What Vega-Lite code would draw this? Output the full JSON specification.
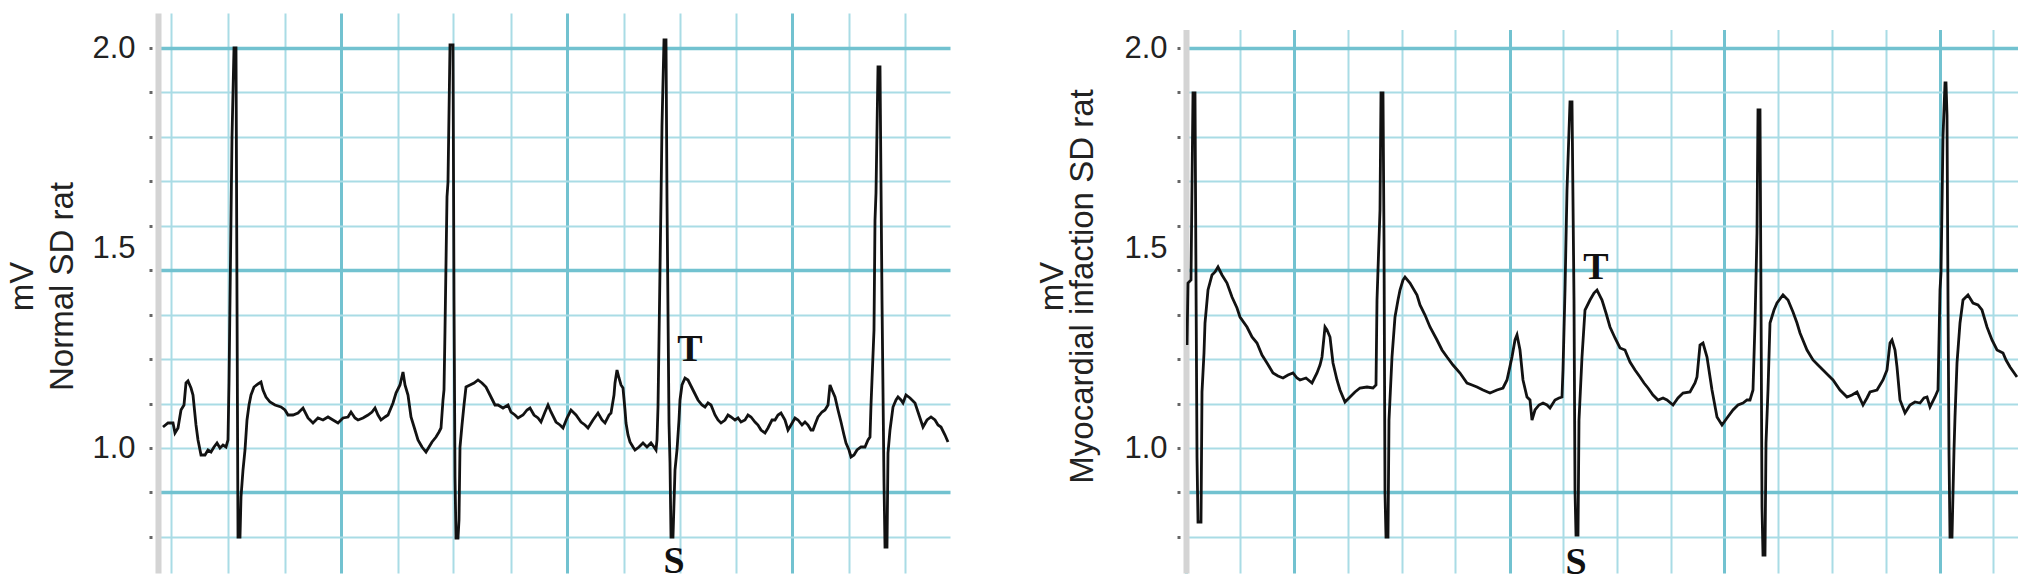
{
  "$schema": "https://vega.github.io/schema/vega-lite/v6.json",
  "padding": {"left": 6, "top": 13, "right": 0, "bottom": 0},
  "background": "white",
  "spacing": 86,
  "config": {"view": {"stroke": null}, "font": "Liberation Sans"},
  "datasets": {
    "normal": [
      {"t":5,"mV":1.0525},{"t":10,"mV":1.0625},{"t":15,"mV":1.0625},{"t":17,"mV":1.0375},{"t":20,"mV":1.05},{"t":23,"mV":1.095},{"t":26,"mV":1.1075},{"t":28,"mV":1.1625},{"t":30,"mV":1.1675},{"t":33,"mV":1.15},{"t":35,"mV":1.1325},{"t":38,"mV":1.0575},{"t":40,"mV":1.02},{"t":43,"mV":0.9825},{"t":47,"mV":0.9825},{"t":50,"mV":0.995},{"t":53,"mV":0.99},{"t":56,"mV":1.0025},{"t":59,"mV":1.0125},{"t":62,"mV":1.0},{"t":65,"mV":1.0075},{"t":68,"mV":1.0025},
      {"t":70,"mV":1.02},{"t":71,"mV":1.1625},{"t":72,"mV":1.37},{"t":74,"mV":1.7775},{"t":76,"mV":2.0},{"t":78,"mV":2.0},{"t":79,"mV":1.37},{"t":80,"mV":0.7775},{"t":82,"mV":0.7775},{"t":83,"mV":0.8775},{"t":85,"mV":0.945},{"t":87,"mV":0.995},{"t":89,"mV":1.07},{"t":91,"mV":1.1075},{"t":93,"mV":1.1325},{"t":96,"mV":1.1525},{"t":100,"mV":1.16},{"t":103,"mV":1.165},{"t":105,"mV":1.145},{"t":108,"mV":1.1275},{"t":112,"mV":1.115},{"t":117,"mV":1.1075},{"t":123,"mV":1.1025},{"t":127,"mV":1.095},{"t":130,"mV":1.0825},{"t":135,"mV":1.0825},{"t":140,"mV":1.0875},{"t":145,"mV":1.1},{"t":150,"mV":1.075},{"t":155,"mV":1.0625},{"t":160,"mV":1.075},{"t":165,"mV":1.07},{"t":170,"mV":1.0775},{"t":175,"mV":1.07},{"t":180,"mV":1.0625},{"t":185,"mV":1.075},{"t":190,"mV":1.0775},{"t":193,"mV":1.09},{"t":197,"mV":1.075},{"t":200,"mV":1.07},{"t":205,"mV":1.075},{"t":210,"mV":1.0825},{"t":214,"mV":1.09},{"t":217,"mV":1.1},{"t":220,"mV":1.0825},{"t":223,"mV":1.07},{"t":227,"mV":1.0775},{"t":230,"mV":1.0825},{"t":235,"mV":1.1125},{"t":238,"mV":1.1375},{"t":242,"mV":1.1575},{"t":245,"mV":1.19},{"t":247,"mV":1.1575},{"t":250,"mV":1.1325},{"t":253,"mV":1.0775},{"t":257,"mV":1.045},{"t":260,"mV":1.02},{"t":264,"mV":1.0025},{"t":268,"mV":0.99},{"t":271,"mV":1.0025},{"t":274,"mV":1.015},{"t":278,"mV":1.0275},{"t":281,"mV":1.04},{"t":283,"mV":1.05},
      {"t":285,"mV":1.12},{"t":286,"mV":1.145},{"t":287,"mV":1.295},{"t":289,"mV":1.6275},{"t":290,"mV":1.665},{"t":292,"mV":2.0075},{"t":295,"mV":2.0075},{"t":296,"mV":1.37},{"t":297,"mV":0.9275},{"t":298,"mV":0.775},{"t":300,"mV":0.775},{"t":301,"mV":0.82},{"t":302,"mV":1.0025},{"t":304,"mV":1.0575},{"t":306,"mV":1.1075},{"t":308,"mV":1.1525},{"t":312,"mV":1.1575},{"t":316,"mV":1.1625},{"t":320,"mV":1.17},{"t":324,"mV":1.1625},{"t":328,"mV":1.1525},{"t":332,"mV":1.1325},{"t":337,"mV":1.1075},{"t":340,"mV":1.1075},{"t":345,"mV":1.1},{"t":350,"mV":1.1075},{"t":353,"mV":1.09},{"t":357,"mV":1.0825},{"t":360,"mV":1.075},{"t":365,"mV":1.0825},{"t":369,"mV":1.095},{"t":372,"mV":1.1},{"t":376,"mV":1.0825},{"t":380,"mV":1.075},{"t":383,"mV":1.065},{"t":387,"mV":1.09},{"t":390,"mV":1.1075},{"t":393,"mV":1.09},{"t":398,"mV":1.065},{"t":402,"mV":1.0575},{"t":405,"mV":1.05},{"t":409,"mV":1.075},{"t":413,"mV":1.095},{"t":418,"mV":1.0825},{"t":423,"mV":1.065},{"t":427,"mV":1.0575},{"t":430,"mV":1.05},{"t":435,"mV":1.07},{"t":440,"mV":1.0875},{"t":444,"mV":1.07},{"t":447,"mV":1.0625},{"t":451,"mV":1.0825},{"t":453,"mV":1.0875},{"t":456,"mV":1.1325},{"t":457,"mV":1.1625},{"t":459,"mV":1.195},{"t":461,"mV":1.175},{"t":463,"mV":1.1575},{"t":465,"mV":1.15},{"t":467,"mV":1.095},{"t":468,"mV":1.0625},{"t":470,"mV":1.0325},{"t":472,"mV":1.015},{"t":475,"mV":1.0025},{"t":477,"mV":0.995},{"t":481,"mV":1.0025},{"t":485,"mV":1.0125},{"t":489,"mV":1.0025},{"t":493,"mV":1.0125},{"t":496,"mV":1.0025},{"t":498,"mV":0.995},
      {"t":499,"mV":1.02},{"t":500,"mV":1.1025},{"t":501,"mV":1.27},{"t":503,"mV":1.62},{"t":504,"mV":1.8075},{"t":506,"mV":2.02},{"t":508,"mV":2.02},{"t":509,"mV":1.62},{"t":511,"mV":1.0625},{"t":512,"mV":0.9625},{"t":513,"mV":0.7775},{"t":515,"mV":0.7775},{"t":517,"mV":0.945},{"t":519,"mV":0.995},{"t":521,"mV":1.07},{"t":522,"mV":1.12},{"t":524,"mV":1.1575},{"t":527,"mV":1.175},{"t":530,"mV":1.17},{"t":535,"mV":1.145},{"t":540,"mV":1.12},{"t":544,"mV":1.1075},{"t":547,"mV":1.1025},{"t":550,"mV":1.1125},{"t":553,"mV":1.1075},{"t":557,"mV":1.0825},{"t":560,"mV":1.07},{"t":563,"mV":1.0625},{"t":567,"mV":1.07},{"t":570,"mV":1.0825},{"t":573,"mV":1.0775},{"t":577,"mV":1.07},{"t":580,"mV":1.075},{"t":583,"mV":1.065},{"t":587,"mV":1.07},{"t":590,"mV":1.0825},{"t":593,"mV":1.0775},{"t":597,"mV":1.065},{"t":600,"mV":1.0575},{"t":603,"mV":1.045},{"t":607,"mV":1.0375},{"t":610,"mV":1.05},{"t":614,"mV":1.07},{"t":617,"mV":1.07},{"t":620,"mV":1.0825},{"t":623,"mV":1.0875},{"t":627,"mV":1.07},{"t":630,"mV":1.045},{"t":633,"mV":1.0575},{"t":637,"mV":1.075},{"t":640,"mV":1.07},{"t":644,"mV":1.0575},{"t":647,"mV":1.065},{"t":650,"mV":1.0575},{"t":653,"mV":1.045},{"t":655,"mV":1.045},{"t":658,"mV":1.065},{"t":660,"mV":1.0775},{"t":664,"mV":1.09},{"t":667,"mV":1.095},{"t":670,"mV":1.1075},{"t":671,"mV":1.1325},{"t":672,"mV":1.1575},{"t":674,"mV":1.145},{"t":677,"mV":1.1275},{"t":680,"mV":1.095},{"t":683,"mV":1.065},{"t":686,"mV":1.0325},{"t":688,"mV":1.0125},{"t":691,"mV":0.995},{"t":693,"mV":0.9775},{"t":696,"mV":0.9825},{"t":699,"mV":0.995},{"t":703,"mV":1.0025},{"t":707,"mV":1.0025},{"t":710,"mV":1.02},{"t":712,"mV":1.0275},
      {"t":713,"mV":1.1075},{"t":716,"mV":1.295},{"t":717,"mV":1.57},{"t":718,"mV":1.6375},{"t":720,"mV":1.9525},{"t":722,"mV":1.9525},{"t":724,"mV":1.37},{"t":726,"mV":0.9125},{"t":727,"mV":0.7525},{"t":729,"mV":0.7525},{"t":730,"mV":0.9875},{"t":732,"mV":1.045},{"t":735,"mV":1.1025},{"t":738,"mV":1.12},{"t":740,"mV":1.1275},{"t":743,"mV":1.12},{"t":745,"mV":1.1125},{"t":748,"mV":1.1325},{"t":752,"mV":1.125},{"t":757,"mV":1.1125},{"t":760,"mV":1.09},{"t":765,"mV":1.0525},{"t":769,"mV":1.07},{"t":773,"mV":1.0775},{"t":777,"mV":1.07},{"t":780,"mV":1.0575},{"t":783,"mV":1.0525},{"t":787,"mV":1.0325},{"t":790,"mV":1.015}
    ],
    "mi": [
      {"t":1,"mV":1.2575},{"t":2,"mV":1.4125},{"t":5,"mV":1.42},{"t":7,"mV":1.8875},{"t":9,"mV":1.8875},{"t":10,"mV":1.42},{"t":11,"mV":0.9775},{"t":12,"mV":0.815},{"t":15,"mV":0.815},{"t":16,"mV":1.14},{"t":18,"mV":1.2375},{"t":19,"mV":1.3125},{"t":22,"mV":1.395},{"t":26,"mV":1.4325},{"t":29,"mV":1.44},{"t":32,"mV":1.4525},{"t":36,"mV":1.4325},{"t":41,"mV":1.4125},{"t":46,"mV":1.3775},{"t":51,"mV":1.35},{"t":54,"mV":1.3275},{"t":61,"mV":1.3025},{"t":66,"mV":1.2775},{"t":71,"mV":1.2625},{"t":76,"mV":1.2325},{"t":81,"mV":1.2125},{"t":87,"mV":1.1875},{"t":92,"mV":1.18},{"t":97,"mV":1.175},{"t":102,"mV":1.1825},{"t":107,"mV":1.1875},{"t":111,"mV":1.175},{"t":114,"mV":1.17},{"t":120,"mV":1.175},{"t":126,"mV":1.1625},{"t":131,"mV":1.1875},{"t":134,"mV":1.2075},{"t":136,"mV":1.2275},{"t":139,"mV":1.3025},{"t":141,"mV":1.295},{"t":144,"mV":1.2775},{"t":147,"mV":1.2125},{"t":151,"mV":1.17},{"t":154,"mV":1.145},{"t":159,"mV":1.115},{"t":164,"mV":1.1275},{"t":169,"mV":1.14},{"t":174,"mV":1.15},{"t":181,"mV":1.1525},{"t":187,"mV":1.15},{"t":190,"mV":1.1575},
      {"t":191,"mV":1.37},{"t":193,"mV":1.52},{"t":194,"mV":1.595},{"t":195,"mV":1.8875},{"t":197,"mV":1.8875},{"t":198,"mV":1.52},{"t":199,"mV":0.8875},{"t":200,"mV":0.7775},{"t":202,"mV":0.7775},{"t":203,"mV":1.07},{"t":206,"mV":1.2275},{"t":209,"mV":1.3275},{"t":212,"mV":1.37},{"t":214,"mV":1.395},{"t":217,"mV":1.42},{"t":219,"mV":1.4275},{"t":224,"mV":1.4125},{"t":231,"mV":1.3825},{"t":234,"mV":1.3575},{"t":239,"mV":1.3325},{"t":244,"mV":1.3025},{"t":251,"mV":1.27},{"t":256,"mV":1.245},{"t":261,"mV":1.2275},{"t":267,"mV":1.2075},{"t":274,"mV":1.1875},{"t":281,"mV":1.1625},{"t":286,"mV":1.1575},{"t":291,"mV":1.1525},{"t":297,"mV":1.145},{"t":304,"mV":1.1375},{"t":311,"mV":1.145},{"t":317,"mV":1.15},{"t":321,"mV":1.17},{"t":326,"mV":1.2275},{"t":329,"mV":1.27},{"t":331,"mV":1.2825},{"t":334,"mV":1.245},{"t":337,"mV":1.17},{"t":341,"mV":1.1275},{"t":344,"mV":1.12},{"t":346,"mV":1.07},{"t":349,"mV":1.095},{"t":353,"mV":1.1075},{"t":357,"mV":1.1125},{"t":361,"mV":1.1075},{"t":364,"mV":1.1},{"t":369,"mV":1.12},{"t":373,"mV":1.125},{"t":376,"mV":1.1275},
      {"t":377,"mV":1.195},{"t":379,"mV":1.395},{"t":381,"mV":1.645},{"t":384,"mV":1.865},{"t":386,"mV":1.865},{"t":388,"mV":1.37},{"t":389,"mV":0.895},{"t":390,"mV":0.7825},{"t":392,"mV":0.7825},{"t":393,"mV":1.07},{"t":396,"mV":1.2275},{"t":399,"mV":1.345},{"t":404,"mV":1.37},{"t":408,"mV":1.3875},{"t":411,"mV":1.395},{"t":416,"mV":1.37},{"t":420,"mV":1.3375},{"t":424,"mV":1.3025},{"t":429,"mV":1.275},{"t":434,"mV":1.25},{"t":439,"mV":1.245},{"t":444,"mV":1.215},{"t":449,"mV":1.195},{"t":454,"mV":1.1775},{"t":458,"mV":1.1625},{"t":462,"mV":1.15},{"t":467,"mV":1.1325},{"t":472,"mV":1.12},{"t":477,"mV":1.125},{"t":481,"mV":1.12},{"t":487,"mV":1.1075},{"t":492,"mV":1.125},{"t":497,"mV":1.1375},{"t":504,"mV":1.14},{"t":509,"mV":1.1625},{"t":511,"mV":1.1775},{"t":514,"mV":1.2575},{"t":517,"mV":1.2625},{"t":521,"mV":1.2275},{"t":526,"mV":1.145},{"t":531,"mV":1.0775},{"t":536,"mV":1.0575},{"t":541,"mV":1.075},{"t":547,"mV":1.095},{"t":552,"mV":1.1075},{"t":557,"mV":1.1125},{"t":561,"mV":1.12},{"t":564,"mV":1.12},{"t":567,"mV":1.145},
      {"t":569,"mV":1.3125},{"t":571,"mV":1.5375},{"t":572,"mV":1.845},{"t":574,"mV":1.845},{"t":575,"mV":1.37},{"t":576,"mV":0.8525},{"t":577,"mV":0.7325},{"t":579,"mV":0.7325},{"t":580,"mV":1.0125},{"t":582,"mV":1.145},{"t":584,"mV":1.3125},{"t":588,"mV":1.345},{"t":591,"mV":1.3625},{"t":597,"mV":1.3825},{"t":602,"mV":1.37},{"t":607,"mV":1.34},{"t":611,"mV":1.3125},{"t":614,"mV":1.2875},{"t":621,"mV":1.245},{"t":627,"mV":1.22},{"t":632,"mV":1.2075},{"t":637,"mV":1.195},{"t":642,"mV":1.1825},{"t":647,"mV":1.17},{"t":654,"mV":1.145},{"t":661,"mV":1.1275},{"t":666,"mV":1.1325},{"t":671,"mV":1.14},{"t":677,"mV":1.1075},{"t":681,"mV":1.125},{"t":684,"mV":1.14},{"t":691,"mV":1.145},{"t":697,"mV":1.17},{"t":701,"mV":1.195},{"t":704,"mV":1.2625},{"t":706,"mV":1.27},{"t":709,"mV":1.245},{"t":711,"mV":1.2025},{"t":714,"mV":1.12},{"t":719,"mV":1.0875},{"t":724,"mV":1.1075},{"t":729,"mV":1.115},{"t":734,"mV":1.1125},{"t":738,"mV":1.125},{"t":741,"mV":1.1275},{"t":744,"mV":1.1025},{"t":749,"mV":1.1275},{"t":752,"mV":1.145},
      {"t":754,"mV":1.395},{"t":755,"mV":1.4375},{"t":757,"mV":1.7775},{"t":759,"mV":1.9125},{"t":760,"mV":1.9125},{"t":761,"mV":1.8325},{"t":762,"mV":1.37},{"t":763,"mV":0.9875},{"t":764,"mV":0.7775},{"t":766,"mV":0.7775},{"t":768,"mV":0.995},{"t":769,"mV":1.0775},{"t":771,"mV":1.2125},{"t":774,"mV":1.3125},{"t":777,"mV":1.37},{"t":782,"mV":1.3825},{"t":787,"mV":1.3625},{"t":792,"mV":1.3575},{"t":796,"mV":1.345},{"t":801,"mV":1.3025},{"t":806,"mV":1.27},{"t":811,"mV":1.245},{"t":817,"mV":1.2375},{"t":820,"mV":1.22},{"t":824,"mV":1.2025},{"t":831,"mV":1.1775}
    ],
    "normalLabels": [{"t":532,"mV":1.245,"label":"T"},{"t":516,"mV":0.715,"label":"S"}],
    "miLabels": [{"t":410,"mV":1.45,"label":"T"},{"t":390,"mV":0.7125,"label":"S"}]
  },
  "hconcat": [
    {
      "width": 792,
      "height": 560,
      "layer": [
        {
          "data": {"name": "normal"},
          "mark": {"type": "line", "color": "#121212", "strokeWidth": 2.8, "clip": true},
          "encoding": {
            "x": {"field": "t", "type": "quantitative",
              "scale": {"domain": [0, 792], "nice": false, "zero": false},
              "axis": {"title": null, "labels": false, "ticks": false, "domain": false, "grid": true,
                "values": [13,70,127,183,240,295,353,409,466,522,578,634,691,747],
                "gridColor": {"condition": {"test": "datum.value == 183 || datum.value == 409 || datum.value == 634", "value": "#72c2d0"}, "value": "#a9dce5"},
                "gridWidth": {"condition": {"test": "datum.value == 183 || datum.value == 409 || datum.value == 634", "value": 3}, "value": 2},
                "gridOpacity": 1}},
            "y": {"field": "mV", "type": "quantitative",
              "scale": {"domain": [0.6875, 2.0875], "nice": false, "zero": false},
              "axis": {"values": [2, 1.8889, 1.7778, 1.6667, 1.5556, 1.5, 1.4444, 1.3333, 1.2222, 1.1111, 1, 0.8889, 0.7778],
                "labelExpr": "datum.value == 2 || datum.value == 1.5 || datum.value == 1 ? format(datum.value, '.1f') : ''",
                "labelOverlap": false, "labelFlush": false,
                "labelFontSize": 31, "labelColor": "#222222", "labelPadding": 14, "labelFont": "Liberation Sans",
                "grid": true,
                "gridColor": {"condition": {"test": "datum.value == 2 || datum.value == 1.4444 || datum.value == 0.8889", "value": "#72c2d0"}, "value": "#a9dce5"},
                "gridWidth": {"condition": {"test": "datum.value == 2 || datum.value == 1.4444 || datum.value == 0.8889", "value": 3.5}, "value": 2},
                "gridOpacity": {"condition": {"test": "datum.value == 1.5", "value": 0}, "value": 1},
                "tickOpacity": {"condition": {"test": "datum.value == 1.5", "value": 0}, "value": 1},
                "tickSize": 9, "tickWidth": 3, "tickColor": "#666666", "tickDash": [3, 6], "tickDashOffset": 3,
                "domainColor": "#d4d4d4", "domainWidth": 6,
                "title": ["mV", "Normal SD rat"], "titleFontSize": 33, "titleFontWeight": "normal", "titleColor": "#222222",
                "titleFont": "Liberation Sans", "titleLineHeight": 40, "titlePadding": 12, "titleY": 273}}
          }
        },
        {
          "data": {"name": "normalLabels"},
          "mark": {"type": "text", "font": "Liberation Serif", "fontWeight": "bold", "fontSize": 38, "color": "#111111", "baseline": "middle", "align": "center"},
          "encoding": {
            "x": {"field": "t", "type": "quantitative"},
            "y": {"field": "mV", "type": "quantitative"},
            "text": {"field": "label"}
          }
        }
      ]
    },
    {
      "width": 832,
      "height": 560,
      "layer": [
        {
          "data": {"name": "mi"},
          "mark": {"type": "line", "color": "#121212", "strokeWidth": 2.8, "clip": true},
          "encoding": {
            "x": {"field": "t", "type": "quantitative",
              "scale": {"domain": [0, 832], "nice": false, "zero": false},
              "axis": {"title": null, "labels": false, "ticks": false, "domain": false, "grid": true,
                "values": [0,54,108,162,216,269,324,377,431,485,538,592,646,700,754,807],
                "gridColor": {"condition": {"test": "datum.value == 0 || datum.value == 108 || datum.value == 324 || datum.value == 538 || datum.value == 754", "value": "#72c2d0"}, "value": "#a9dce5"},
                "gridWidth": {"condition": {"test": "datum.value == 0 || datum.value == 108 || datum.value == 324 || datum.value == 538 || datum.value == 754", "value": 3}, "value": 2},
                "gridOpacity": 1}},
            "y": {"field": "mV", "type": "quantitative",
              "scale": {"domain": [0.6875, 2.0875], "nice": false, "zero": false},
              "axis": {"values": [2, 1.8889, 1.7778, 1.6667, 1.5556, 1.5, 1.4444, 1.3333, 1.2222, 1.1111, 1, 0.8889, 0.7778],
                "labelExpr": "datum.value == 2 || datum.value == 1.5 || datum.value == 1 ? format(datum.value, '.1f') : ''",
                "labelOverlap": false, "labelFlush": false,
                "labelFontSize": 31, "labelColor": "#222222", "labelPadding": 10, "labelFont": "Liberation Sans",
                "grid": true,
                "gridColor": {"condition": {"test": "datum.value == 2 || datum.value == 1.4444 || datum.value == 0.8889", "value": "#72c2d0"}, "value": "#a9dce5"},
                "gridWidth": {"condition": {"test": "datum.value == 2 || datum.value == 1.4444 || datum.value == 0.8889", "value": 3.5}, "value": 2},
                "gridOpacity": {"condition": {"test": "datum.value == 1.5", "value": 0}, "value": 1},
                "tickOpacity": {"condition": {"test": "datum.value == 1.5", "value": 0}, "value": 1},
                "tickSize": 9, "tickWidth": 3, "tickColor": "#666666", "tickDash": [3, 6], "tickDashOffset": 3,
                "domainColor": "#d4d4d4", "domainWidth": 6,
                "title": ["mV", "Myocardial infaction SD rat"], "titleFontSize": 33, "titleFontWeight": "normal", "titleColor": "#222222",
                "titleFont": "Liberation Sans", "titleLineHeight": 30, "titlePadding": 24, "titleY": 273}}
          }
        },
        {
          "data": {"values": [{}]},
          "mark": {"type": "rect", "fill": "#ffffff", "stroke": null, "clip": false},
          "encoding": {
            "x": {"datum": -6, "type": "quantitative"},
            "x2": {"datum": 832},
            "y": {"datum": 2.0875, "type": "quantitative"},
            "y2": {"datum": 2.045}
          }
        },
        {
          "data": {"name": "miLabels"},
          "mark": {"type": "text", "font": "Liberation Serif", "fontWeight": "bold", "fontSize": 38, "color": "#111111", "baseline": "middle", "align": "center"},
          "encoding": {
            "x": {"field": "t", "type": "quantitative"},
            "y": {"field": "mV", "type": "quantitative"},
            "text": {"field": "label"}
          }
        }
      ]
    }
  ]
}
